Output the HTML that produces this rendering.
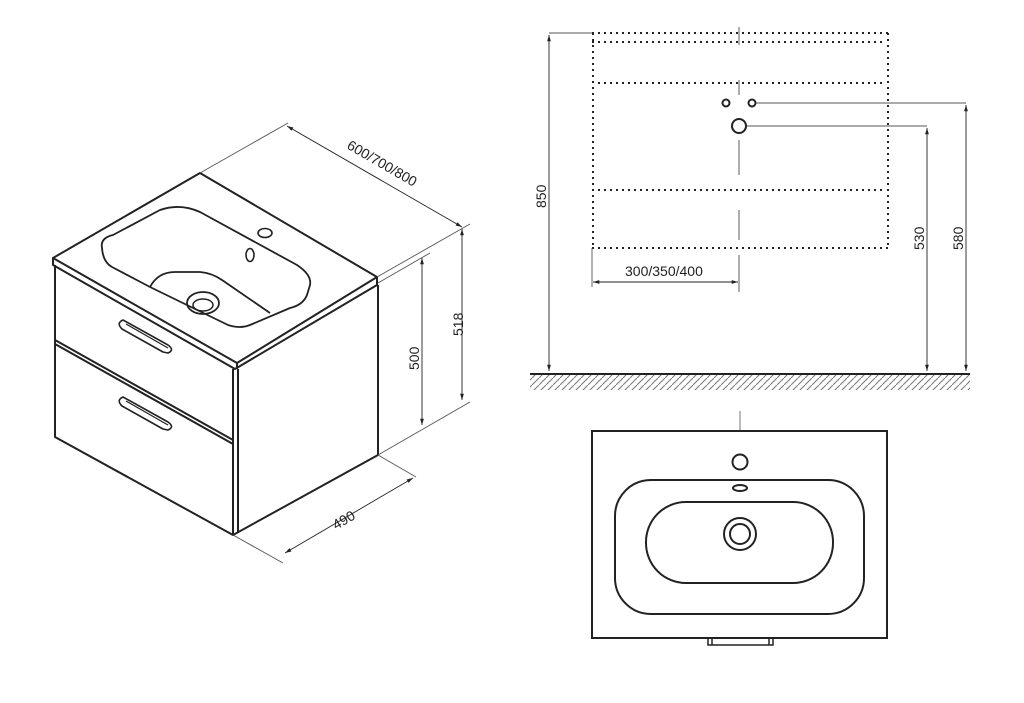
<!DOCTYPE html>
<html><head><meta charset="utf-8"><style>html,body{margin:0;padding:0;background:#fff}svg{display:block}text{font-family:"Liberation Sans",sans-serif;font-size:14px;fill:#222}</style></head><body>
<svg width="1024" height="703" viewBox="0 0 1024 703" xmlns="http://www.w3.org/2000/svg">
<defs>
<marker id="a" viewBox="0 0 10 10" refX="10" refY="5" markerWidth="9" markerHeight="7" orient="auto-start-reverse"><path d="M0,2 L10,5 L0,8 z" fill="#222"/></marker>
<pattern id="h" width="7" height="7" patternUnits="userSpaceOnUse"><path d="M7,0 L0,7" stroke="#777" stroke-width="1"/></pattern>
</defs>
<g fill="none" stroke="#222" stroke-width="2" stroke-linejoin="round">
<path d="M53,258 L200,173 L377,277 L237,363 Z"/>
<path d="M53,258 L53,265 L235,369 L377,285 L377,277"/>
<path d="M237,363 L237,369"/>
<path d="M55,265 L55,437 L233,535 L378,455 L378,285"/>
<path d="M233,369 L233,535 M238,369 L238,533"/>
<path d="M55,340 L233,440 M55,344 L233,444"/>
<path d="M102,248 Q100,238 113,235 L160,210 Q180,203 200,212 L297,265 Q312,275 310,285 L307,295 Q303,305 290,308 L250,325 Q240,329 228,325 L150,287 L112,267 Q103,262 102,248 Z" stroke-width="1.8"/>
<path d="M150,287 Q158,272 175,272 L200,272 Q212,273 222,280 L270,313" stroke-width="1.8"/>
<ellipse cx="203" cy="303" rx="16" ry="11" stroke-width="1.8"/>
<ellipse cx="203" cy="305" rx="10" ry="6" stroke-width="1.5"/>
<ellipse cx="265" cy="233" rx="7" ry="4.5" stroke-width="1.6"/>
<ellipse cx="250" cy="255" rx="4" ry="6.5" stroke-width="1.6"/>
<path d="M123,320 L168,345 Q175,350 168,353 L163,352 L122,329 Q116,323 123,320 Z" stroke-width="1.6"/>
<path d="M126,324 L168,348" stroke-width="1.2"/>
<path d="M123,397 L168,422 Q175,427 168,430 L163,429 L122,406 Q116,400 123,397 Z" stroke-width="1.6"/>
<path d="M126,401 L168,425" stroke-width="1.2"/>
</g>
<g stroke="#555" stroke-width="0.9" fill="none">
<path d="M200,173 L288,123 M377,277 L470,224 M378,283 L430,253 M378,455 L470,402 M378,455 L416,477 M233,535 L283,563"/>
<path d="M287,126 L462,227" stroke="#222" marker-start="url(#a)" marker-end="url(#a)"/>
<path d="M462,229 L462,400" stroke="#222" marker-start="url(#a)" marker-end="url(#a)"/>
<path d="M422,258 L422,425" stroke="#222" marker-start="url(#a)" marker-end="url(#a)"/>
<path d="M413,478 L285,553" stroke="#222" marker-start="url(#a)" marker-end="url(#a)"/>
</g>
<text transform="translate(346,148) rotate(30)">600/700/800</text>
<text transform="translate(463,336) rotate(-90)">518</text>
<text transform="translate(419,370) rotate(-90)">500</text>
<text transform="translate(336,530) rotate(-30)">490</text>
<g stroke="#222" stroke-width="2" stroke-dasharray="2,4" fill="none">
<path d="M592,33 L888,33 M592,42 L885,42 M598,83 L885,83 M598,190 L885,190 M592,248 L888,248 M593,33 L593,248 M888,33 L888,248"/>
</g>
<path d="M739,27 L739,45 M739,80 L739,95 M739,140 L739,175 M739,210 L739,240 M739,255 L739,292" stroke="#777" stroke-width="1.2"/>
<g fill="none" stroke="#222" stroke-width="2"><circle cx="726" cy="103" r="3.5"/><circle cx="752" cy="103" r="3.5"/><circle cx="739" cy="126" r="7"/></g>
<g stroke="#555" stroke-width="0.9" fill="none">
<path d="M756,103 L966,103 M747,126 L927,126 M549,33 L592,33 M592,248 L592,287"/>
<path d="M966,105 L966,371" stroke="#222" marker-start="url(#a)" marker-end="url(#a)"/>
<path d="M927,128 L927,371" stroke="#222" marker-start="url(#a)" marker-end="url(#a)"/>
<path d="M549,35 L549,371" stroke="#222" marker-start="url(#a)" marker-end="url(#a)"/>
<path d="M593,282 L738,282" stroke="#222" marker-start="url(#a)" marker-end="url(#a)"/>
</g>
<text x="625" y="276">300/350/400</text>
<text transform="translate(546,208) rotate(-90)">850</text>
<text transform="translate(924,250) rotate(-90)">530</text>
<text transform="translate(963,250) rotate(-90)">580</text>
<rect x="530" y="375" width="440" height="15" fill="url(#h)"/>
<path d="M530,374 L970,374" stroke="#222" stroke-width="2"/>
<path d="M740,411 L740,431" stroke="#777" stroke-width="1"/>
<g fill="none" stroke="#222" stroke-width="2">
<rect x="592" y="431" width="295" height="207"/>
<rect x="615" y="480" width="249" height="134" rx="36"/>
<rect x="646" y="502" width="187" height="81" rx="40"/>
<circle cx="740" cy="534" r="16"/><circle cx="740" cy="534" r="10"/>
<circle cx="740" cy="462" r="7.5"/>
<ellipse cx="740" cy="488" rx="7" ry="3"/>
<path d="M708,638 L708,645 L773,645 L773,638 M712,638 L712,645 M769,638 L769,645" stroke-width="1.5"/>
</g>
</svg>
</body></html>
